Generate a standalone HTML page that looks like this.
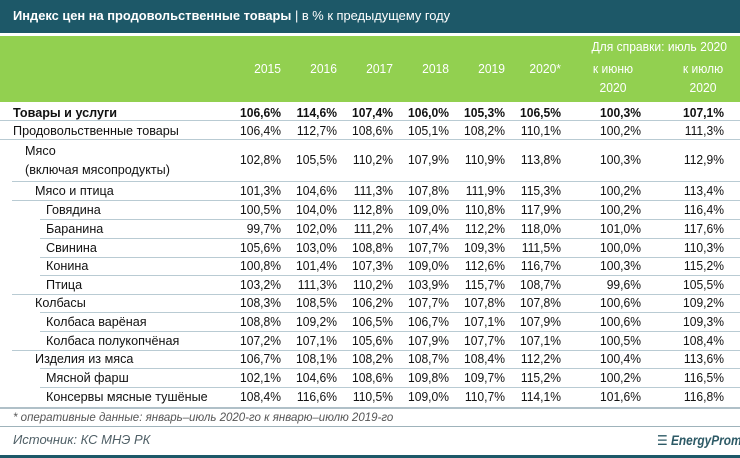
<!DOCTYPE html>
<html><head><meta charset="utf-8">
<style>
*{margin:0;padding:0;box-sizing:border-box}
body{width:740px;height:458px;background:#fff;position:relative;overflow:hidden;font-family:"Liberation Sans","DejaVu Sans",sans-serif;color:#111}
.t{position:absolute;white-space:nowrap;line-height:14px}
.n{position:absolute;white-space:nowrap;line-height:14px;text-align:right;width:80px;transform:scaleX(0.93);transform-origin:right center;font-size:13px}
.l{position:absolute;height:1px;background:#b9cbd3;right:0}
.lab{font-size:13px;transform:scaleX(0.97);transform-origin:left center}
.b{font-weight:bold}
.h{color:#fff}
.hc{transform-origin:center center}
</style></head><body>
<div style="position:absolute;left:0;top:0;width:740px;height:33px;background:#1d5868"></div>
<div class="t" style="left:13px;top:9px;color:#fff;font-size:13px;transform:scaleX(0.99);transform-origin:left"><b>Индекс цен на продовольственные товары</b> | в % к предыдущему году</div>
<div style="position:absolute;left:0;top:36px;width:740px;height:66px;background:#92d050"></div>
<div id="c"></div>
<div style="position:absolute;left:0;top:407px;width:740px;height:2px;background:#b0c0c8"></div>
<div class="t" style="left:13px;top:411px;font-size:11.5px;font-style:italic;color:#555;transform:scaleX(1.0);transform-origin:left">* оперативные данные: январь–июль 2020-го к январю–июлю 2019-го</div>
<div style="position:absolute;left:0;top:426px;width:740px;height:1px;background:#9fb3bb"></div>
<div class="t" style="left:13px;top:433px;font-size:13px;font-style:italic;color:#4f5f66">Источник: КС МНЭ РК</div>
<div class="t" style="left:657px;top:434px;font-size:13.5px;font-style:italic;font-weight:bold;color:#2d5a66;transform:scaleX(0.88);transform-origin:left">&#9776; EnergyProm</div>
<div style="position:absolute;left:0;top:455px;width:740px;height:3px;background:#1d5868"></div>
<script>
var c=document.getElementById('c'),h='';
var R=[281,337,393,449,505,561,641,724];
function n(x,y,s,cl){h+='<div class="n '+(cl||'')+'" style="left:'+(x-80)+'px;top:'+(y-7)+'px">'+s+'</div>';}
var rows=[
["Товары и услуги",13,113,120,0,"106,6% 114,6% 107,4% 106,0% 105,3% 106,5% 100,3% 107,1%",1],
["Продовольственные товары",13,131,139,0,"106,4% 112,7% 108,6% 105,1% 108,2% 110,1% 100,2% 111,3%"],
["Мясо",25,160,181,12,"102,8% 105,5% 110,2% 107,9% 110,9% 113,8% 100,3% 112,9%"],
["Мясо и птица",35,191,200,12,"101,3% 104,6% 111,3% 107,8% 111,9% 115,3% 100,2% 113,4%"],
["Говядина",46,210,219,40,"100,5% 104,0% 112,8% 109,0% 110,8% 117,9% 100,2% 116,4%"],
["Баранина",46,229,238,40,"99,7% 102,0% 111,2% 107,4% 112,2% 118,0% 101,0% 117,6%"],
["Свинина",46,248,257,40,"105,6% 103,0% 108,8% 107,7% 109,3% 111,5% 100,0% 110,3%"],
["Конина",46,266,275,40,"100,8% 101,4% 107,3% 109,0% 112,6% 116,7% 100,3% 115,2%"],
["Птица",46,285,294,12,"103,2% 111,3% 110,2% 103,9% 115,7% 108,7% 99,6% 105,5%"],
["Колбасы",35,303,312,40,"108,3% 108,5% 106,2% 107,7% 107,8% 107,8% 100,6% 109,2%"],
["Колбаса варёная",46,322,331,40,"108,8% 109,2% 106,5% 106,7% 107,1% 107,9% 100,6% 109,3%"],
["Колбаса полукопчёная",46,341,350,12,"107,2% 107,1% 105,6% 107,9% 107,7% 107,1% 100,5% 108,4%"],
["Изделия из мяса",35,359,368,40,"106,7% 108,1% 108,2% 108,7% 108,4% 112,2% 100,4% 113,6%"],
["Мясной фарш",46,378,387,40,"102,1% 104,6% 108,6% 109,8% 109,7% 115,2% 100,2% 116,5%"],
["Консервы мясные тушёные",46,397,0,0,"108,4% 116,6% 110,5% 109,0% 110,7% 114,1% 101,6% 116,8%"]];
['2015','2016','2017','2018','2019','2020*'].forEach(function(s,i){n(R[i],69,s,'h')});
h+='<div class="n h" style="left:'+(727-200)+'px;width:200px;top:40px">Для справки: июль 2020</div>';
h+='<div class="n h hc" style="left:573px;top:62px;text-align:center">к июню</div><div class="n h hc" style="left:573px;top:81px;text-align:center">2020</div>';
h+='<div class="n h hc" style="left:663px;top:62px;text-align:center">к июлю</div><div class="n h hc" style="left:663px;top:81px;text-align:center">2020</div>';
rows.forEach(function(r){
 var b=r[6]?' b':'';
 if(r[0]=="Мясо"){
  h+='<div class="t lab" style="left:25px;top:144px">Мясо</div><div class="t lab" style="left:25px;top:163px">(включая мясопродукты)</div>';
 } else h+='<div class="t lab'+b+'" style="left:'+r[1]+'px;top:'+(r[2]-7)+'px">'+r[0]+'</div>';
 r[5].split(' ').forEach(function(s,i){n(R[i],r[2],s,b)});
 if(r[3]) h+='<div class="l" style="left:'+r[4]+'px;top:'+r[3]+'px"></div>';
});
c.innerHTML=h;
</script>
</body></html>
